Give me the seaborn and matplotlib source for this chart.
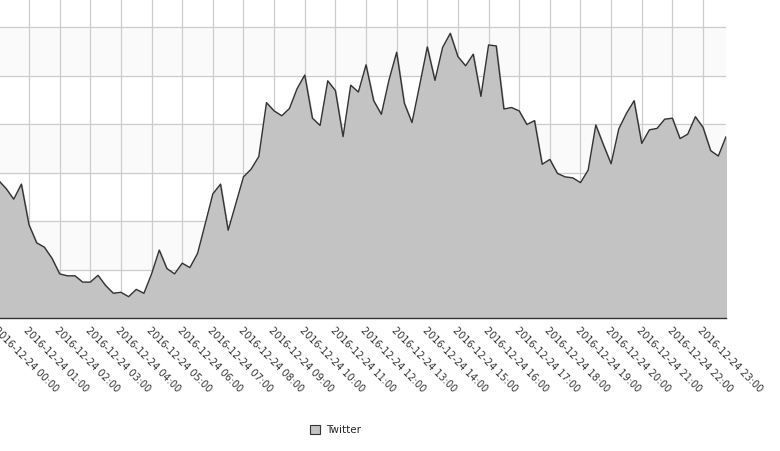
import matplotlib
matplotlib.use("Agg")
import matplotlib.pyplot as plt
from matplotlib.patches import Patch
import numpy as np
import pandas as pd
import seaborn as sns

# 15-minute counts
times = pd.date_range("2016-12-24 00:00", periods=96, freq="15min")
counts = [
    284, 267, 245, 276, 192, 155, 146, 123, 91, 87, 87, 74, 74, 88, 67, 51,
    53, 44, 59, 51, 91, 140, 102, 91, 113, 104, 133, 194, 256, 276, 181, 236,
    291, 307, 333, 444, 427, 417, 432, 473, 501, 412, 397, 489, 469, 374,
    480, 466, 522, 448, 420, 491, 548, 443, 403, 480, 559, 490, 558, 587,
    539, 520, 544, 457, 563, 561, 431, 434, 427, 399, 407, 317, 327, 298,
    291, 289, 279, 305, 398, 357, 318, 390, 422, 448, 360, 388, 391, 410,
    412, 370, 379, 415, 393, 345, 334, 374,
]
hour_labels = [t.strftime("%Y-%m-%d %H:%M") for t in times[::4]]
series_name = "Twitter"

df = pd.DataFrame({"slot": np.arange(len(counts)), "count": counts})

sns.set_style("whitegrid")
plt.rcParams["font.family"] = ["DejaVu Sans"]

fig = plt.figure(figsize=(7.8, 4.51), dpi=100)
ax = fig.add_axes([-1.6 / 780, 133 / 451, 727.6 / 780, 318 / 451])

# faint alternating bands
for lo in (100, 300, 500):
    ax.axhspan(lo, lo + 100, color="#fafafa", zorder=0)

ax.fill_between(df["slot"], df["count"], color="#c3c3c3", zorder=2)
sns.lineplot(data=df, x="slot", y="count", ax=ax, color="#333333",
             linewidth=1.0, zorder=3)

ax.set_xlim(0, 95)
ax.set_ylim(0, 655.7)
ax.set_yticks(range(100, 700, 100))
ax.set_yticklabels([])
ax.set_xticks(df["slot"][::4])
ax.set_xticklabels(hour_labels, rotation=-45, ha="left", va="top",
                   rotation_mode="anchor", fontsize=7, color="#333333")
ax.tick_params(axis="x", length=3, width=0.8, color="#333333", pad=2)
ax.tick_params(axis="y", length=0)
ax.grid(True, color="#cccccc", linewidth=0.9)
ax.set_xlabel("")
ax.set_ylabel("")
for side in ("top", "left", "right"):
    ax.spines[side].set_visible(False)
ax.spines["bottom"].set_color("#333333")
ax.spines["bottom"].set_linewidth(1.0)
ax.set_axisbelow(True)

handle = Patch(facecolor="#c3c3c3", edgecolor="#333333", linewidth=0.8)
fig.legend([handle], [series_name], loc="center", bbox_to_anchor=(0.43, 0.046),
           frameon=False, fontsize=7.5, handlelength=1.0, handleheight=1.0,
           handletextpad=0.6)

fig.savefig("out.png", dpi=100)
